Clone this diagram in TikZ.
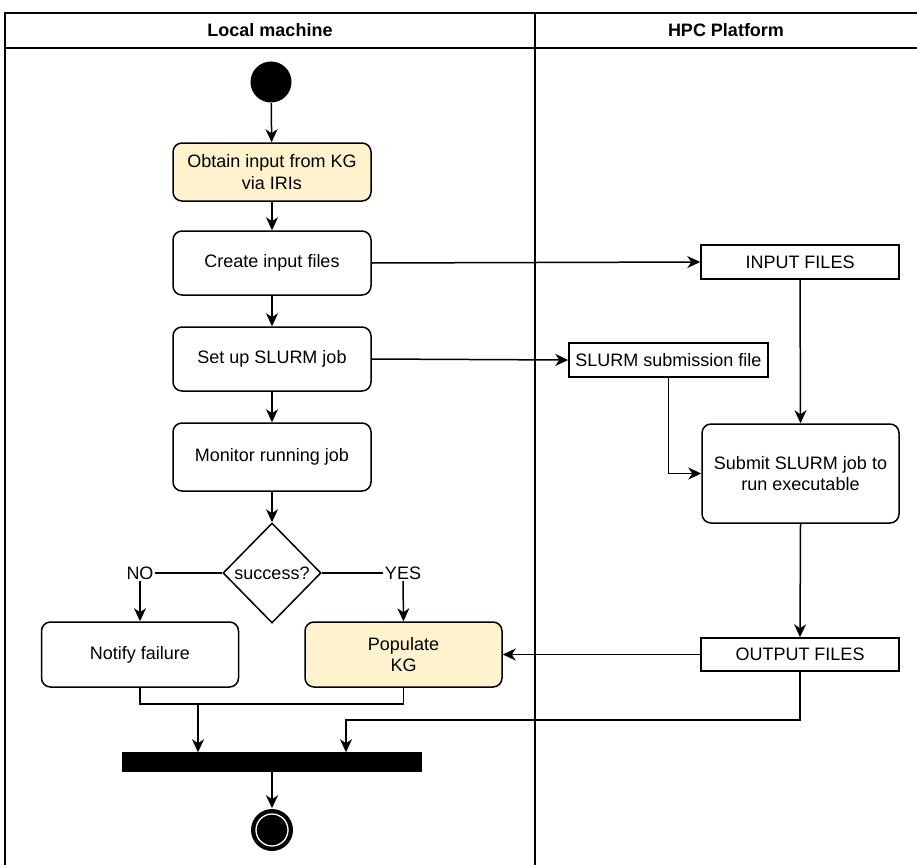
\documentclass[tikz,border=0pt]{standalone}
\usepackage{fontspec}
\setmainfont{Liberation Sans}
\usetikzlibrary{arrows.meta,shapes.geometric}
\definecolor{kgfill}{HTML}{FFF2CC}
\begin{document}
\begin{tikzpicture}[x=1pt,y=-1pt, line width=1.5pt,
  every node/.style={font=\fontsize{18}{21.5}\selectfont},
  act/.style={draw, rounded corners=9pt, minimum width=198pt, align=center, inner sep=0pt},
  kg/.style={act, fill=kgfill},
  filebox/.style={draw, minimum width=198pt, minimum height=34pt, inner sep=0pt},
  lbl/.style={inner sep=1pt},
  arr/.style={-{Stealth[length=13pt,width=12pt,inset=4pt]}},
  hdr/.style={font=\fontsize{18}{21.5}\selectfont\bfseries}
]
\useasboundingbox (0,0) rectangle (917,864);
% swimlanes
\draw (5,866) -- (5,13) -- (919,13);
\draw (5,48) -- (919,48);
\draw (535,13) -- (535,866);
\node[hdr] (hl) at (270,30.5) {Local machine};
\node[hdr] (hr) at (726,30.5) {HPC Platform};

% local lane
\node[circle, fill=black, minimum size=41pt, inner sep=0pt] (start) at (271,82) {};
\node[kg, minimum height=58pt] (obtain) at (272,172) {Obtain input from KG\\via IRIs};
\node[act, minimum height=64pt] (create) at (272,263) {Create input files};
\node[act, minimum height=64pt] (setup) at (272,359) {Set up SLURM job};
\node[act, minimum height=68pt] (monitor) at (272,457) {Monitor running job};
\node[diamond, draw, minimum width=98pt, minimum height=100pt, inner sep=0pt] (dec) at (272,573) {success?};
\node[lbl] (no) at (140,573) {NO};
\node[lbl] (yes) at (403,573) {YES};
\node[act, minimum width=197pt, minimum height=65pt] (notify) at (140,654.5) {Notify failure};
\node[kg, minimum width=197pt, minimum height=65pt] (populate) at (403.5,654.5) {Populate\\KG};
\node[fill=black, draw=black, minimum width=298pt, minimum height=18pt, inner sep=0pt] (bar) at (272,762) {};
\node[circle, fill=black, minimum size=42pt, inner sep=0pt] (end) at (272,830) {};
\node[circle, fill=black, draw=white, line width=1.3pt, minimum size=32pt, inner sep=0pt] (endin) at (272,830) {};

% HPC lane
\node[filebox] (inputf) at (800,262) {INPUT FILES};
\node[filebox, minimum width=199pt] (slurmf) at (668.5,360) {SLURM submission file};
\node[act, minimum width=197pt, minimum height=99pt] (submit) at (800.5,473.5) {Submit SLURM job to\\run executable};
\node[filebox, minimum height=33pt] (outputf) at (800,654.5) {OUTPUT FILES};

% connectors
\draw[arr] (start) -- (obtain);
\draw[arr] (obtain) -- (create);
\draw[arr] (create) -- (setup);
\draw[arr] (setup) -- (monitor);
\draw[arr] (monitor) -- (dec);
\draw (dec.west) -- (no.east);
\draw (dec.east) -- (yes.west);
\draw[arr] (no.south) -- (notify.north);
\draw[arr] (yes.south) -- (populate.north);
\draw (notify.south) -- ++(0,16) -| (populate.south);
\coordinate (j1) at (198,703);
\draw[arr] (j1) -- (j1 |- bar.north);
\coordinate (j2) at (346,720);
\draw[arr] (outputf.south) |- (j2) -- (j2 |- bar.north);
\draw[arr] (bar) -- (end);

\draw[arr] (create.east) -- (inputf.west);
\draw[arr] (setup.east) -- (slurmf.west);
\draw[arr] (inputf.south) -- (submit.north);
\draw[arr] (slurmf.south) |- (submit.west);
\draw[arr] (submit.south) -- (outputf.north);
\draw[arr] (outputf.west) -- (populate.east);
\end{tikzpicture}
\end{document}
